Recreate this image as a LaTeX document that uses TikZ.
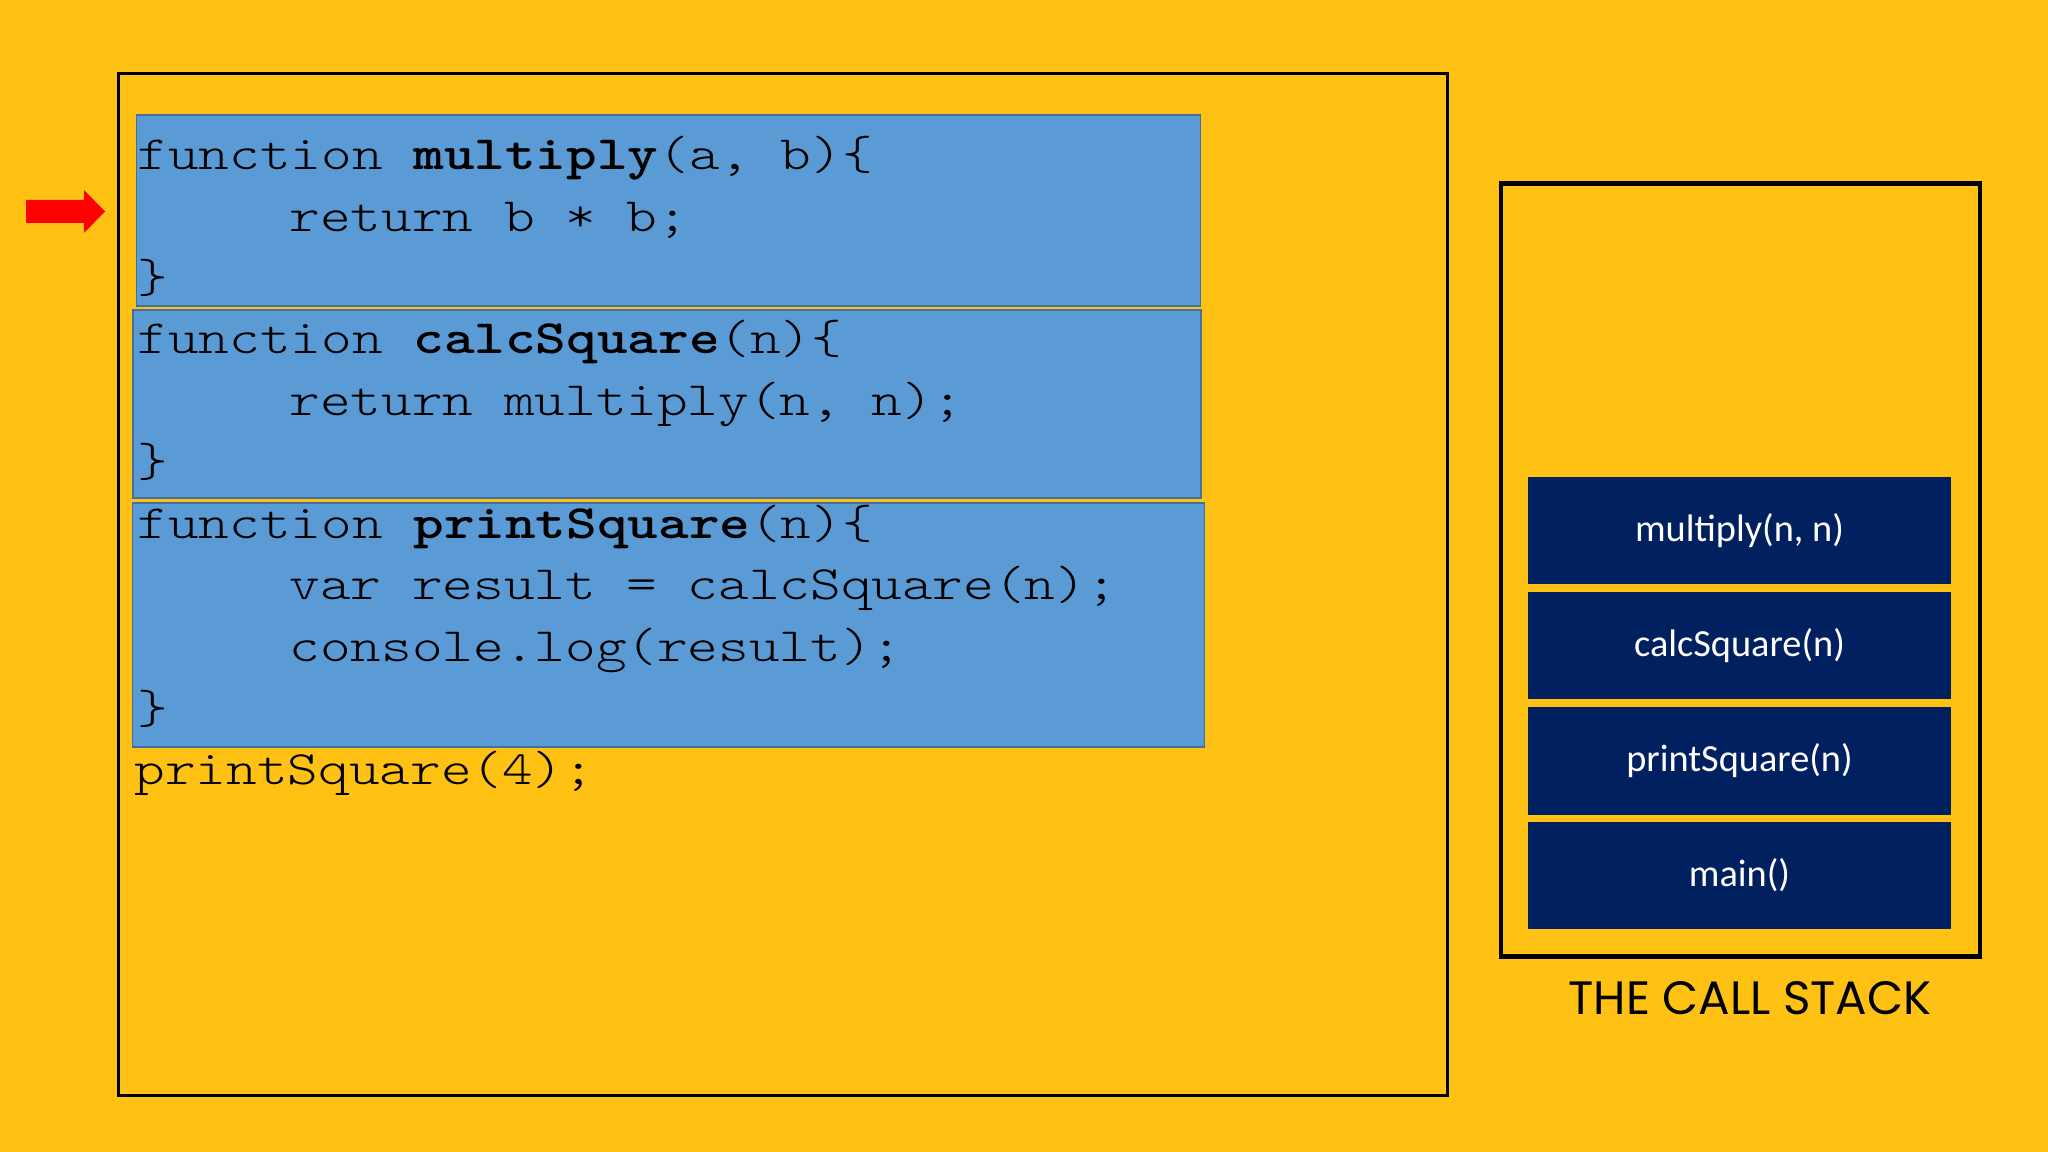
\documentclass[tikz,border=0pt]{standalone}
\usepackage{fontspec}
\newfontfamily\code{lmmonolt10-regular.otf}[BoldFont=lmmonolt10-bold.otf, FakeStretch=1.22]
\newfontfamily\stackfont{Carlito}
\newfontfamily\titlefont{Poppins}
\definecolor{amber}{RGB}{254,193,20}
\definecolor{codeblue}{RGB}{91,155,213}
\definecolor{codeedge}{RGB}{65,113,156}
\definecolor{navy}{RGB}{0,32,96}
\tikzset{
  codebox/.style={draw=codeedge, line width=0.4pt, fill=codeblue, inner sep=0pt},
  codeline/.style={anchor=base west, inner sep=0pt, font=\code\fontsize{13.6pt}{13.6pt}\selectfont, text=black},
  frame/.style={fill=navy, inner sep=0pt, minimum width=4.23cm, minimum height=1.07cm, text=white, font=\stackfont\fontsize{10.9pt}{10.9pt}\selectfont},
}
\begin{document}
\begin{tikzpicture}[x=0.01cm, y=-0.01cm]
\useasboundingbox (0,0) rectangle (2048,1152);
\fill[amber] (0,0) rectangle (2048,1152);
% main code panel
\node[draw=black, line width=0.85pt, inner sep=0pt, minimum width=13.28cm, minimum height=10.21cm] (panel) at (783,584.5) {};
% code boxes
\node[codebox, minimum width=10.63cm, minimum height=1.91cm] (box1) at (668.5,210.5) {};
\node[codebox, minimum width=10.67cm, minimum height=1.88cm] (box2) at (667,404) {};
\node[codebox, minimum width=10.71cm, minimum height=2.44cm] (box3) at (668.5,625) {};
% code lines
\def\ind{289}
\node[codeline] (l1) at (137,170) {function \textbf{multiply}(a, b)\{};
\node[codeline] (l2) at (\ind,232) {return b * b;};
\node[codeline] (l3) at (137,293) {\}};
\node[codeline] (l4) at (137,354) {function \textbf{calcSquare}(n)\{};
\node[codeline] (l5) at (\ind,416) {return multiply(n, n);};
\node[codeline] (l6) at (137,477) {\}};
\node[codeline] (l7) at (137,538) {function \textbf{printSquare}(n)\{};
\node[codeline] (l8) at (\ind,600) {var result = calcSquare(n);};
\node[codeline] (l9) at (\ind,662) {console.log(result);};
\node[codeline] (l10) at (137,723) {\}};
\node[codeline] (l11) at (134,784) {printSquare(4);};
% red pointer arrow
\fill[red] (26,200) -- (84,200) -- (84,190) -- (105,211.5) -- (84,233) -- (84,223) -- (26,223) -- cycle;
% call stack
\node[draw=black, line width=1.3pt, inner sep=0pt, minimum width=4.79cm, minimum height=7.72cm] (stack) at (1740.5,570) {};
\node[frame] (f1) at (1739.5,530.5) {multiply(n, n)};
\node[frame] (f2) at (1739.5,645.5) {calcSquare(n)};
\node[frame] (f3) at (1739.5,761) {printSquare(n)};
\node[frame] (f4) at (1739.5,875.5) {main()};
\node[anchor=base, inner sep=0pt, font=\titlefont\fontsize{13.3pt}{13.3pt}\selectfont] (title) at (1750,1014) {THE CALL STACK};
\end{tikzpicture}
\end{document}
